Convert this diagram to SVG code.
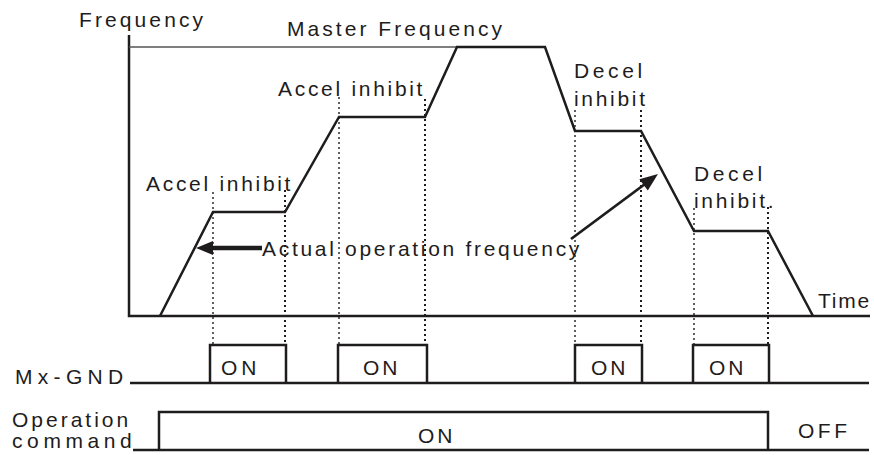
<svg xmlns="http://www.w3.org/2000/svg" width="874" height="455" viewBox="0 0 874 455">
<style>
text{font-family:"Liberation Sans",Arial,sans-serif;font-size:21px;fill:#1e1c1c;letter-spacing:3px}
.ln{fill:none;stroke:#1e1c1c;stroke-width:2.5;stroke-linejoin:miter}
.dot{fill:none;stroke:#1e1c1c;stroke-width:1.4;stroke-dasharray:2 3}
.dotb{fill:none;stroke:#1e1c1c;stroke-width:2;stroke-dasharray:2 3}
</style>
<rect width="874" height="455" fill="#fff"/>
<g id="axes">
<path class="ln" d="M129,35 V316 H870"/>
<line x1="129" y1="47" x2="458" y2="47" stroke="#555" stroke-width="1.3"/>
</g>
<g id="curve">
<path class="ln" d="M160,316 L213,212 H285 L339,117 H425 L457,47 H545 L575,131 H641 L694,231 H768 L813,316"/>
</g>
<g id="guides">
<line class="dot" x1="213" y1="192" x2="213" y2="345"/>
<line class="dotb" x1="285" y1="190" x2="285" y2="345"/>
<line class="dot" x1="339" y1="97" x2="339" y2="345"/>
<line class="dotb" x1="425" y1="99" x2="425" y2="345"/>
<line class="dot" x1="575" y1="110" x2="575" y2="345"/>
<line class="dotb" x1="641" y1="110" x2="641" y2="345"/>
<line class="dot" x1="694" y1="208" x2="694" y2="345"/>
<line class="dotb" x1="768" y1="207" x2="768" y2="345"/>
</g>
<g id="connectors">
<line x1="262" y1="248" x2="210" y2="248" stroke="#1e1c1c" stroke-width="4.5"/>
<polygon points="196,248 213,241 213,255" fill="#1e1c1c"/>
<line x1="571" y1="239" x2="645" y2="184" stroke="#1e1c1c" stroke-width="2.8"/>
<polygon points="658,174 647.8,190.4 639.4,179.2" fill="#1e1c1c"/>
</g>
<g id="mx-gnd">
<path class="ln" d="M130,383 H869"/>
<path class="ln" d="M210,383 V345 H286 V383 M338,383 V345 H427 V383 M575,383 V345 H642 V383 M693,383 V345 H769 V383"/>
</g>
<g id="operation">
<path class="ln" d="M133,450 H869"/>
<path class="ln" d="M159,450 V412 H768 V450"/>
</g>
<g id="labels">
<text x="79" y="27" style="letter-spacing:3.1px">Frequency</text>
<text x="287" y="36" style="letter-spacing:3.05px">Master Frequency</text>
<text x="278" y="96" style="letter-spacing:2.7px">Accel inhibit</text>
<text x="146" y="191" style="letter-spacing:2.7px">Accel inhibit</text>
<text x="262" y="256" style="letter-spacing:2.7px">Actual operation frequency</text>
<text x="574" y="78" style="letter-spacing:3.6px">Decel</text>
<text x="574" y="106" style="letter-spacing:2.7px">inhibit</text>
<text x="694" y="181" style="letter-spacing:3.6px">Decel</text>
<text x="694" y="208" style="letter-spacing:2.7px">inhibit.</text>
<text x="818" y="308" style="letter-spacing:1.8px">Time</text>
<text x="15" y="384" style="letter-spacing:5.3px">Mx-GND</text>
<text x="221" y="375" style="letter-spacing:4px">ON</text>
<text x="363" y="375" style="letter-spacing:3px">ON</text>
<text x="591" y="375" style="letter-spacing:3px">ON</text>
<text x="709" y="375" style="letter-spacing:3px">ON</text>
<text x="12" y="427" style="letter-spacing:3px">Operation</text>
<text x="12" y="448" style="letter-spacing:4.6px">command</text>
<text x="418" y="443" style="letter-spacing:3px">ON</text>
<text x="798" y="438" style="letter-spacing:3.5px">OFF</text>
</g>
</svg>
